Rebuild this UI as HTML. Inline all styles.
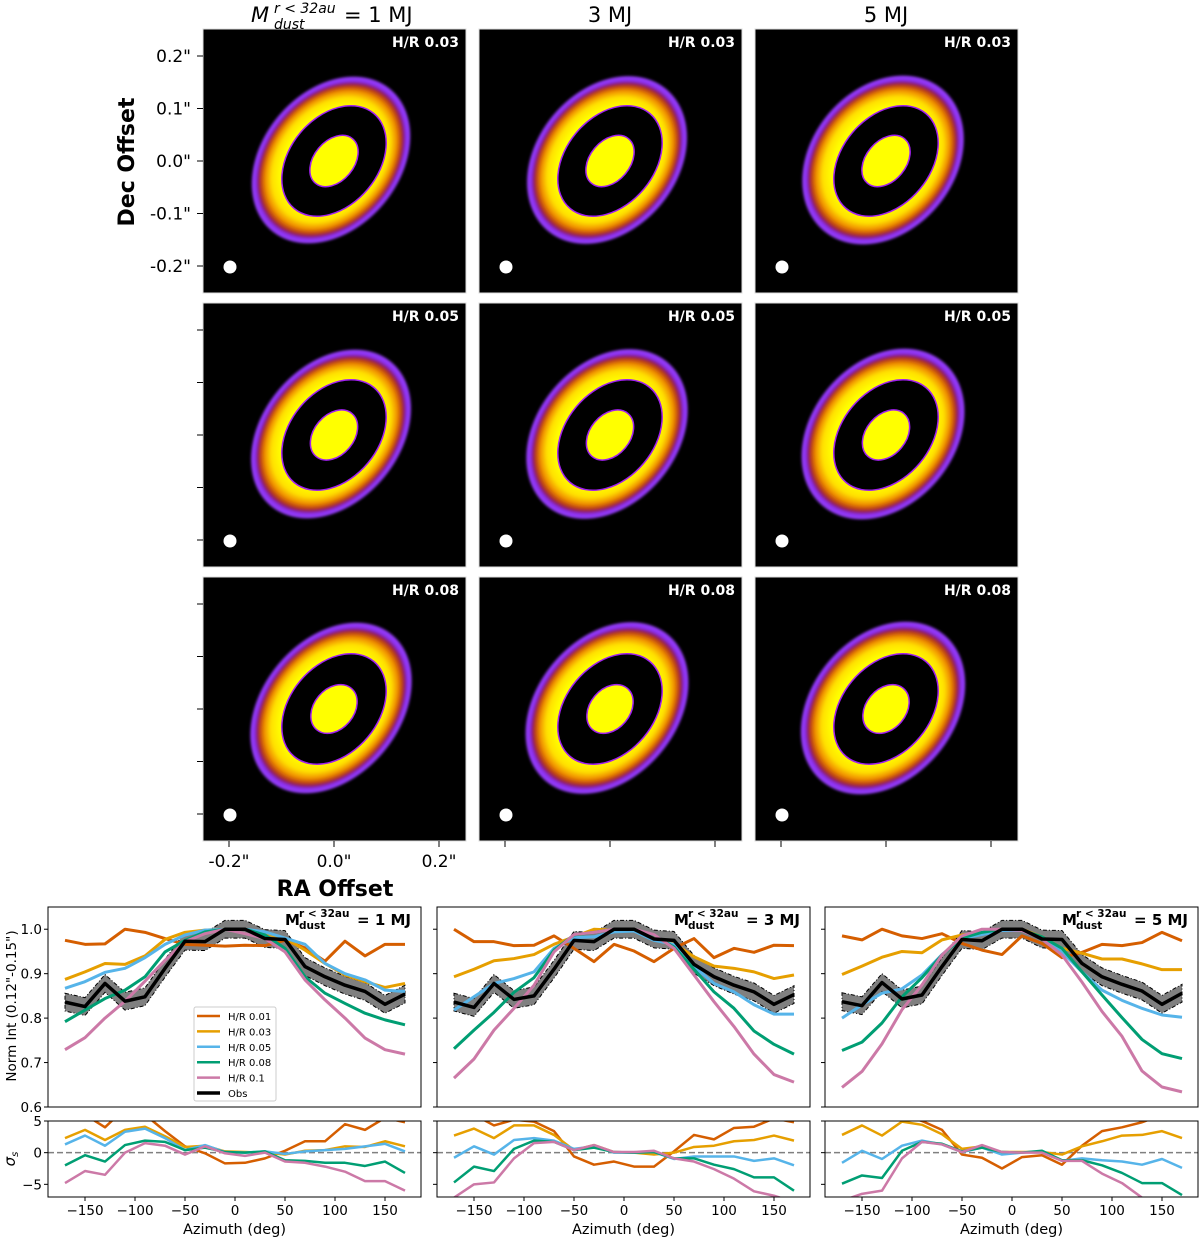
<!DOCTYPE html>
<html><head><meta charset="utf-8"><style>
html,body{margin:0;padding:0;background:#fff;}
svg{display:block;font-family:"DejaVu Sans","Liberation Sans",sans-serif;}
</style></head><body>
<svg id="fig" width="1200" height="1237" viewBox="0 0 1200 1237" xmlns="http://www.w3.org/2000/svg">
<defs>
<radialGradient id="ringGrad" cx="0.5" cy="0.5" r="0.5">
<stop offset="0.62" stop-color="#ffff00"/>
<stop offset="0.74" stop-color="#ffe000"/>
<stop offset="0.82" stop-color="#f09000"/>
<stop offset="0.88" stop-color="#b83a10"/>
<stop offset="0.91" stop-color="#8a1a60"/>
<stop offset="0.94" stop-color="#8a30f0"/>
<stop offset="0.985" stop-color="#9a40ff"/>
<stop offset="1" stop-color="#9a40ff" stop-opacity="0"/>
</radialGradient>
<filter id="soft" x="-20%" y="-20%" width="140%" height="140%"><feGaussianBlur stdDeviation="1.4"/></filter>
</defs>
<g id="images"></g>
<g id="lines"></g>
</svg>
<script>
const NS="http://www.w3.org/2000/svg";
function mk(tag,attrs,parent,text){const e=document.createElementNS(NS,tag);for(const k in attrs)e.setAttribute(k,attrs[k]);if(text!==undefined)e.textContent=text;parent.appendChild(e);return e;}

// ---------- data ----------
const azimuths=[-170,-150,-130,-110,-90,-70,-50,-30,-10,10,30,50,70,90,110,130,150,170];
const seriesLabels=["H/R 0.01","H/R 0.03","H/R 0.05","H/R 0.08","H/R 0.1","Obs"];
const seriesColors=["#d55e00","#e69f00","#56b4e9","#009e73","#cc79a7","#000000"];
const massLabels=["1 MJ","3 MJ","5 MJ"];
const hrLabels=["H/R 0.03","H/R 0.05","H/R 0.08"];
const mainTicks=[0.6,0.7,0.8,0.9,1.0];
const resTicks=[-5,0,5];
const azTicks=[-150,-100,-50,0,50,100,150];
const offTicks=[0.2,0.1,0.0,-0.1,-0.2];
const offTickLabels=['0.2"','0.1"','0.0"','-0.1"','-0.2"'];
const raTickLabels=['-0.2"','0.0"','0.2"'];
const raTicks=[-0.2,0.0,0.2];

// panel 1 (1 MJ)
const p1_hr001=[0.975,0.966,0.967,1.0,0.993,0.979,0.966,0.964,0.962,0.964,0.963,0.975,0.958,0.928,0.973,0.94,0.966,0.966];
const p1_hr003=[0.887,0.904,0.923,0.921,0.94,0.977,0.993,0.998,1.0,1.0,0.99,0.98,0.953,0.923,0.897,0.882,0.869,0.878];
const p1_hr005=[0.867,0.882,0.903,0.912,0.936,0.966,0.987,0.998,1.0,1.0,0.994,0.98,0.966,0.923,0.9,0.886,0.863,0.86];
const p1_hr008=[0.792,0.818,0.844,0.863,0.893,0.949,0.975,0.994,1.0,1.0,0.987,0.957,0.893,0.856,0.833,0.811,0.796,0.785];
const p1_hr01=[0.729,0.756,0.8,0.838,0.883,0.93,0.972,0.99,1.0,0.99,0.979,0.949,0.886,0.841,0.8,0.755,0.729,0.719];
const p1_obs=[0.836,0.826,0.878,0.838,0.848,0.912,0.973,0.972,1.0,1.0,0.979,0.977,0.916,0.893,0.874,0.86,0.831,0.854];
const p1_r001=[7,6,4,7,6,3.4,1,-0.1,-1.7,-1.6,-0.9,0.3,1.8,1.8,4.5,3.6,5.5,4.8];
const p1_r003=[2.3,3.6,2,3.6,4.1,2.6,0.9,1.1,0.2,0.1,0,-0.3,0.3,0.4,1,0.9,1.8,1];
const p1_r005=[1.3,2.7,1.1,3.3,3.8,2.3,0.4,1.2,0.1,0,0.2,-0.2,0.2,0.4,0.6,1,1.4,0.2];
const p1_r008=[-2,-0.4,-1.4,1.2,1.9,1.7,0.4,0.8,0.1,0,0.2,-1.2,-1.3,-1.6,-1.6,-2.1,-1.4,-3.2];
const p1_r01=[-4.8,-2.9,-3.5,0,1.5,1.1,-0.3,1,-0.1,-0.5,0,-1.4,-1.6,-2.2,-3,-4.5,-4.5,-6];
// panel 2 (3 MJ)
const p2_hr001=[1.0,0.972,0.972,0.963,0.964,0.985,0.957,0.927,0.966,0.951,0.927,0.957,0.979,0.936,0.957,0.948,0.964,0.963];
const p2_hr003=[0.893,0.91,0.929,0.934,0.943,0.966,0.983,1.0,0.998,0.997,0.979,0.968,0.938,0.917,0.912,0.904,0.889,0.897];
const p2_hr005=[0.818,0.848,0.878,0.889,0.904,0.957,0.981,0.983,0.994,0.996,0.975,0.966,0.916,0.878,0.859,0.83,0.809,0.809];
const p2_hr008=[0.731,0.773,0.813,0.858,0.891,0.953,0.987,0.993,1.0,1.0,0.987,0.96,0.91,0.859,0.822,0.771,0.741,0.719];
const p2_hr01=[0.665,0.708,0.773,0.822,0.874,0.949,0.988,0.993,1.0,1.0,0.988,0.957,0.897,0.837,0.781,0.719,0.673,0.656];
const p2_obs=[0.836,0.824,0.878,0.842,0.85,0.91,0.975,0.972,1.0,1.0,0.978,0.975,0.921,0.893,0.874,0.859,0.831,0.853];
const p2_r001=[7,6,4.3,5.2,4.9,3.4,-0.6,-1.9,-1.4,-2.2,-2.2,0.2,2.8,2.1,3.9,4.1,5.4,4.8];
const p2_r003=[2.7,3.8,2.3,4.3,4.3,2.8,0.4,1.2,0.1,0,-0.3,0,0.9,1.1,1.8,2,2.7,1.9];
const p2_r005=[-0.8,1,-0.3,2,2.3,1.9,0.6,1,0,0,0.1,-1,-0.6,-0.6,-0.6,-1.3,-0.9,-2];
const p2_r008=[-4.7,-2.2,-2.9,0.6,1.9,1.7,0.4,0.8,0.1,0,0.1,-0.9,-0.9,-1.9,-2.6,-3.9,-3.9,-6];
const p2_r01=[-7.1,-5,-4.7,-0.9,1.5,1.7,0.4,1.2,0.1,0.1,0.3,-0.9,-1.4,-2.6,-4.1,-6.1,-6.8,-7.8];
// panel 3 (5 MJ)
const p3_hr001=[0.985,0.976,1.0,0.985,0.979,0.99,0.968,0.953,0.943,0.985,0.968,0.936,0.948,0.966,0.963,0.97,0.993,0.974];
const p3_hr003=[0.898,0.917,0.937,0.95,0.947,0.976,0.987,0.992,1.0,1.0,0.983,0.957,0.946,0.933,0.933,0.922,0.909,0.909];
const p3_hr005=[0.8,0.83,0.856,0.866,0.897,0.943,0.979,0.988,0.997,0.997,0.979,0.949,0.904,0.863,0.84,0.822,0.807,0.802];
const p3_hr008=[0.727,0.746,0.789,0.848,0.891,0.942,0.98,0.993,1.0,0.998,0.983,0.957,0.904,0.852,0.801,0.752,0.72,0.709];
const p3_hr01=[0.644,0.68,0.742,0.819,0.875,0.942,0.985,1.0,1.0,0.997,0.978,0.942,0.881,0.815,0.759,0.681,0.645,0.634];
const p3_obs=[0.837,0.828,0.88,0.843,0.852,0.916,0.977,0.974,1.0,1.0,0.978,0.977,0.923,0.893,0.876,0.861,0.831,0.856];
const p3_r001=[7,7,7,6,5,3.6,-0.3,-0.8,-2.5,-0.7,-0.4,-1.9,1.1,3.4,4,4.8,6,7];
const p3_r003=[2.8,4.3,2.7,4.9,4.4,2.9,0.6,1,0.1,0.1,0.1,-0.3,1,1.8,2.7,2.8,3.4,2.3];
const p3_r005=[-1.6,0.3,-1,1.1,1.9,1.3,0.1,0.8,-0.3,0,0.2,-1.3,-0.9,-1.2,-1.4,-1.9,-1,-2.4];
const p3_r008=[-4.9,-3.6,-4,0.3,1.7,1.4,0.2,0.8,0.1,0,0.3,-1.2,-1.2,-2,-3.2,-4.8,-4.8,-6.7];
const p3_r01=[-7.6,-6.5,-6,-0.9,1.7,1.3,0.1,1.2,0.1,0,0,-1.3,-1.3,-3.3,-4.8,-7.1,-8.4,-9.5];
const obsErr=0.02;

const panelData=[
 {main:[p1_hr001,p1_hr003,p1_hr005,p1_hr008,p1_hr01],obs:p1_obs,res:[p1_r001,p1_r003,p1_r005,p1_r008,p1_r01]},
 {main:[p2_hr001,p2_hr003,p2_hr005,p2_hr008,p2_hr01],obs:p2_obs,res:[p2_r001,p2_r003,p2_r005,p2_r008,p2_r01]},
 {main:[p3_hr001,p3_hr003,p3_hr005,p3_hr008,p3_hr01],obs:p3_obs,res:[p3_r001,p3_r003,p3_r005,p3_r008,p3_r01]}
];

// ---------- image grid ----------
const imgG=document.getElementById('images');
const colX=[203,479,755], rowY=[29,303,577], PW=263, PH=264;
const pxPerArcsec=525;
colX.forEach((cx,ci)=>{
  rowY.forEach((ry,ri)=>{
    const g=mk('g',{},imgG);
    
    
    mk('rect',{x:cx,y:ry,width:PW,height:PH,fill:'#000'},g);
    const ccx=cx+131, ccy=ry+132;
    const rg=mk('g',{transform:`translate(${ccx-3},${ccy-1}) rotate(40)`,filter:'url(#soft)'},g);
    const rx=69+ci*1.5, ryy=93+ri*1.5;
    mk('ellipse',{cx:0,cy:0,rx:rx,ry:ryy,fill:'url(#ringGrad)'},rg);
    const ig=mk('g',{transform:`translate(${ccx},${ccy}) rotate(40)`},g);
    mk('ellipse',{cx:0,cy:0,rx:44,ry:62,fill:'#000',stroke:'#a020f0','stroke-width':1.5},ig);
    mk('ellipse',{cx:0,cy:0,rx:20,ry:29-ri*1,fill:'#ffff00',stroke:'#a020f0','stroke-width':1.5},ig);
    const beam=mk('circle',{cx:cx+27,cy:ry+238,r:6.5,fill:'#fff'},g);
    
    
    const lab=mk('text',{x:cx+PW-7,y:ry+18,'text-anchor':'end','font-size':14,'font-weight':'bold',fill:'#fff'},g,hrLabels[ri]);
    
    
    mk('rect',{x:cx,y:ry,width:PW,height:PH,fill:'none',stroke:'#ddd','stroke-width':1},g);
    if(ci===0){
      offTicks.forEach((t,k)=>{
        const y=ry+132-t*pxPerArcsec;
        mk('line',{x1:cx-6,x2:cx,y1:y,y2:y,stroke:'#000','stroke-width':1},g);
        if(ri===0){
          const tl=mk('text',{x:cx-12,y:y+6,'text-anchor':'end','font-size':17},g,offTickLabels[k]);
          
          
        }
      });
    }
    if(ri===2){
      raTicks.forEach((t,k)=>{
        const x=cx+131+t*pxPerArcsec;
        mk('line',{x1:x,x2:x,y1:ry+PH,y2:ry+PH+6,stroke:'#000','stroke-width':1},g);
        if(ci===0){
          const tl=mk('text',{x:x,y:ry+PH+26,'text-anchor':'middle','font-size':17},g,raTickLabels[k]);
          
          
        }
      });
    }
  });
});
// column titles
{
  const t=mk('g',{},imgG);
  
  
  mk('text',{x:251,y:22,'font-size':21,'font-style':'italic'},t,'M');
  mk('text',{x:274,y:13,'font-size':14,'font-style':'italic'},t,'r < 32au');
  mk('text',{x:274,y:29,'font-size':14,'font-style':'italic'},t,'dust');
  mk('text',{x:344,y:22,'font-size':21},t,'= 1 MJ');
  const t2=mk('text',{x:610,y:22,'text-anchor':'middle','font-size':21},imgG,'3 MJ');
  
  
  const t3=mk('text',{x:886,y:22,'text-anchor':'middle','font-size':21},imgG,'5 MJ');
  
  
  const xa=mk('text',{x:335,y:896,'text-anchor':'middle','font-size':22,'font-weight':'bold'},imgG,'RA Offset');
  
  
  const ya=mk('text',{x:0,y:0,transform:'translate(134,162) rotate(-90)','text-anchor':'middle','font-size':22,'font-weight':'bold'},imgG,'Dec Offset');
  
  
}

// ---------- line plots ----------
const lg=document.getElementById('lines');
const plotLeft=[48,437,825], plotW=373;
const mainTop=907, mainBot=1107, resTop=1121, resBot=1197;
const xMin=-187, xMax=186, mMin=0.6, mMax=1.05, rMin=-7, rMax=5;
panelData.forEach((pd,pi)=>{
  const L=plotLeft[pi];
  const R=L+plotW;
  const xS=v=>L+(v-xMin)/(xMax-xMin)*plotW;
  const yM=v=>mainBot-(v-mMin)/(mMax-mMin)*(mainBot-mainTop);
  const yR=v=>resBot-(v-rMin)/(rMax-rMin)*(resBot-resTop);
  const g=mk('g',{},lg);
  
  
  const cm=mk('clipPath',{id:'cm'+pi},g);
  mk('rect',{x:L,y:mainTop,width:plotW,height:mainBot-mainTop},cm);
  const cr=mk('clipPath',{id:'cr'+pi},g);
  mk('rect',{x:L,y:resTop,width:plotW,height:resBot-resTop},cr);
  const gm=mk('g',{'clip-path':`url(#cm${pi})`},g);
  let up=azimuths.map((a,i)=>`${xS(a)},${yM(pd.obs[i]+obsErr)}`);
  let dn=azimuths.map((a,i)=>`${xS(a)},${yM(pd.obs[i]-obsErr)}`).reverse();
  const band=mk('polygon',{points:up.concat(dn).join(' '),fill:'#808080',stroke:'#000','stroke-width':1,'stroke-dasharray':'4,2,1,2'},gm);
  
  
  pd.main.forEach((s,si)=>{
    const pl=mk('polyline',{points:azimuths.map((a,i)=>`${xS(a)},${yM(s[i])}`).join(' '),fill:'none',stroke:seriesColors[si],'stroke-width':3,'stroke-linejoin':'round'},gm);
    
    
  });
  const ol=mk('polyline',{points:azimuths.map((a,i)=>`${xS(a)},${yM(pd.obs[i])}`).join(' '),fill:'none',stroke:'#000','stroke-width':3.5,'stroke-linejoin':'round'},gm);
  
  
  const gr=mk('g',{'clip-path':`url(#cr${pi})`},g);
  mk('line',{x1:L,x2:R,y1:yR(0),y2:yR(0),stroke:'#808080','stroke-width':1.5,'stroke-dasharray':'6,3'},gr);
  pd.res.forEach((s,si)=>{
    const pl=mk('polyline',{points:azimuths.map((a,i)=>`${xS(a)},${yR(s[i])}`).join(' '),fill:'none',stroke:seriesColors[si],'stroke-width':2.5,'stroke-linejoin':'round'},gr);
    
    
  });
  mk('rect',{x:L,y:mainTop,width:plotW,height:mainBot-mainTop,fill:'none',stroke:'#000','stroke-width':1},g);
  mk('rect',{x:L,y:resTop,width:plotW,height:resBot-resTop,fill:'none',stroke:'#000','stroke-width':1},g);
  mainTicks.forEach(t=>{
    const y=yM(t);
    mk('line',{x1:L-4,x2:L,y1:y,y2:y,stroke:'#000'},g);
    if(pi===0){const tl=mk('text',{x:L-6,y:y+5,'text-anchor':'end','font-size':13.5},g,t.toFixed(1));
      }
  });
  resTicks.forEach(t=>{
    const y=yR(t);
    mk('line',{x1:L-4,x2:L,y1:y,y2:y,stroke:'#000'},g);
    if(pi===0){const tl=mk('text',{x:L-6,y:y+5,'text-anchor':'end','font-size':13.5},g,t<0?'\u2212'+Math.abs(t):String(t));
      }
  });
  azTicks.forEach(t=>{
    const x=xS(t);
    mk('line',{x1:x,x2:x,y1:resBot,y2:resBot+4,stroke:'#000'},g);
    const tl=mk('text',{x:x,y:resBot+18,'text-anchor':'middle','font-size':13.5},g,t<0?'\u2212'+Math.abs(t):String(t));
    
  });
  const xt=mk('text',{x:L+plotW/2,y:1234,'text-anchor':'middle','font-size':14.5},g,'Azimuth (deg)');
  
  const pt=mk('g',{'font-weight':'bold'},g);
  
  mk('text',{x:R-136,y:925,'font-size':15},pt,'M');
  mk('text',{x:R-122,y:917,'font-size':10.5},pt,'r < 32au');
  mk('text',{x:R-122,y:929,'font-size':10.5},pt,'dust');
  mk('text',{x:R-10,y:925,'font-size':15,'text-anchor':'end'},pt,'= '+massLabels[pi]);
});
{
  const a=mk('text',{transform:'translate(16,1006) rotate(-90)','text-anchor':'middle','font-size':13.5},lg,'Norm Int (0.12"-0.15")');
  
  const s=mk('text',{transform:'translate(15,1159) rotate(-90)','text-anchor':'middle','font-size':15,'font-style':'italic'},lg);
  
  mk('tspan',{},s,'\u03c3');mk('tspan',{'font-size':10,dy:3},s,'s');
  const leg=mk('g',{},lg);
  
  mk('rect',{x:194,y:1007,width:82,height:94,fill:'#fff',stroke:'#ccc','stroke-width':1,rx:2},leg);
  seriesLabels.forEach((lab,i)=>{
    const y=1016+i*15.4;
    const e=mk('g',{},leg);
    
    mk('line',{x1:197,x2:220,y1:y,y2:y,stroke:seriesColors[i],'stroke-width':i===5?3.5:2.5},e);
    mk('text',{x:228,y:y+4,'font-size':10},e,lab);
  });
}
</script>
</body></html>
